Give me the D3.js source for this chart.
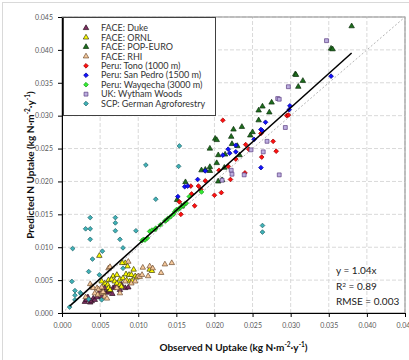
<!DOCTYPE html>
<html>
<head>
<meta charset="utf-8">
<script src="https://cdn.jsdelivr.net/npm/d3@7"></script>
<style>
  body { margin: 0; background: #fff; }
  text { font-family: Lato, "Liberation Sans", sans-serif; }
</style>
</head>
<body>
<div id="chart"></div>
<script>
// observed (x) vs predicted (y) N uptake, kg N m-2 y-1
const duke = [[0.0030,0.0017],[0.0032,0.0020],[0.0037,0.0016],[0.0039,0.0018],[0.0041,0.0022],[0.0043,0.0020],
  [0.0046,0.0024],[0.0048,0.0030],[0.0050,0.0032],[0.0052,0.0025],[0.0054,0.0035],[0.0056,0.0038],[0.0059,0.0031],
  [0.0061,0.0033],[0.0063,0.0035],[0.0067,0.0038],[0.0070,0.0040],[0.0074,0.0041],[0.0078,0.0043],[0.0083,0.0038],
  [0.0087,0.0039],[0.0076,0.0035],[0.0034,0.0024],[0.0066,0.0029]];
const ornl = [[0.0049,0.0087],[0.0067,0.0056],[0.0072,0.0058],[0.0084,0.0059],[0.0088,0.0058],[0.0091,0.0058],
  [0.0096,0.0056],[0.0098,0.0054],[0.0061,0.0050],[0.0065,0.0051],[0.0069,0.0048],[0.0072,0.0045],[0.0056,0.0045],
  [0.0060,0.0043],[0.0076,0.0051],[0.0080,0.0053],[0.0085,0.0050],[0.0089,0.0048],[0.0092,0.0049],[0.0052,0.0048],
  [0.0061,0.0038],[0.0063,0.0035],[0.0054,0.0031],[0.0076,0.0043],[0.0078,0.0040],[0.0094,0.0066],[0.0083,0.0076],
  [0.0115,0.0066],[0.0118,0.0064],[0.0079,0.0076],[0.0086,0.0071]];
const popEuro = [[0.0380,0.0436],[0.0353,0.0402],[0.0355,0.0401],[0.0306,0.0363],[0.0307,0.0362],[0.0316,0.0353],
  [0.0310,0.0344],[0.0275,0.0320],[0.0263,0.0314],[0.0258,0.0308],[0.0272,0.0305],[0.0258,0.0293],[0.0236,0.0283],
  [0.0225,0.0279],[0.0222,0.0268],[0.0250,0.0275],[0.0247,0.0270],[0.0201,0.0265],[0.0203,0.0263],[0.0194,0.0250],
  [0.0223,0.0257],[0.0230,0.0254],[0.0205,0.0240],[0.0214,0.0241],[0.0233,0.0240],[0.0183,0.0217],[0.0188,0.0218],
  [0.0194,0.0222],[0.0203,0.0228],[0.0194,0.0216],[0.0205,0.0200],[0.0210,0.0202],[0.0151,0.0172],[0.0157,0.0162],
  [0.0162,0.0199],[0.0213,0.0221]];
const rhi = [[0.0087,0.0078],[0.0106,0.0069],[0.0115,0.0071],[0.0119,0.0068],[0.0130,0.0061],[0.0135,0.0074],
  [0.0144,0.0076],[0.0113,0.0056],[0.0100,0.0056],[0.0061,0.0068],[0.0063,0.0070],[0.0037,0.0044],[0.0039,0.0040],
  [0.0041,0.0038],[0.0046,0.0038],[0.0048,0.0036],[0.0052,0.0039],[0.0043,0.0030],[0.0047,0.0028],[0.0052,0.0030],
  [0.0054,0.0032],[0.0056,0.0025],[0.0059,0.0022],[0.0083,0.0048],[0.0091,0.0045],[0.0096,0.0048],[0.0102,0.0055],
  [0.0105,0.0058],[0.0072,0.0038],[0.0031,0.0024],[0.0076,0.0030]];
const tono = [[0.0211,0.0293],[0.0295,0.0300],[0.0297,0.0301],[0.0261,0.0273],[0.0277,0.0261],[0.0241,0.0256],
  [0.0245,0.0249],[0.0281,0.0246],[0.0262,0.0237],[0.0228,0.0234],[0.0206,0.0217],[0.0240,0.0213],[0.0221,0.0203],
  [0.0169,0.0193],[0.0179,0.0193],[0.0182,0.0188],[0.0170,0.0181],[0.0174,0.0163],[0.0200,0.0179],[0.0209,0.0183],
  [0.0156,0.0150],[0.0154,0.0169],[0.0188,0.0201],[0.0218,0.0223]];
const sanPedro = [[0.0353,0.0360],[0.0299,0.0315],[0.0298,0.0309],[0.0267,0.0290],[0.0261,0.0279],[0.0263,0.0277],
  [0.0252,0.0264],[0.0228,0.0255],[0.0218,0.0249],[0.0220,0.0243],[0.0228,0.0245],[0.0211,0.0240],[0.0261,0.0221],
  [0.0188,0.0216],[0.0178,0.0203],[0.0161,0.0192],[0.0165,0.0193],[0.0152,0.0177]];
const wayqecha = [[0.0105,0.0110],[0.0107,0.0112],[0.0109,0.0111],[0.0112,0.0114],[0.0115,0.0124],[0.0118,0.0126],
  [0.0122,0.0127],[0.0123,0.0129],[0.0129,0.0134],[0.0135,0.0140],[0.0137,0.0141],[0.0139,0.0144],[0.0142,0.0146],
  [0.0146,0.0150],[0.0148,0.0154],[0.0150,0.0157],[0.0153,0.0158],[0.0155,0.0160],[0.0159,0.0163],[0.0161,0.0166],
  [0.0163,0.0167],[0.0183,0.0184],[0.0167,0.0177]];
const wytham = [[0.0347,0.0414],[0.0297,0.0344],[0.0283,0.0326],[0.0285,0.0325],[0.0293,0.0282],[0.0269,0.0261],
  [0.0264,0.0245],[0.0248,0.0248],[0.0285,0.0210],[0.0222,0.0217],[0.0223,0.0211],[0.0239,0.0210],[0.0210,0.0202]];
const scp = [[0.0154,0.0254],[0.0110,0.0225],[0.0153,0.0223],[0.0123,0.0173],[0.0037,0.0145],[0.0031,0.0128],
  [0.0037,0.0128],[0.0037,0.0112],[0.0070,0.0145],[0.0070,0.0137],[0.0070,0.0125],[0.0076,0.0112],[0.0097,0.0125],
  [0.0080,0.0099],[0.0014,0.0098],[0.0053,0.0094],[0.0013,0.0048],[0.0035,0.0063],[0.0040,0.0082],[0.0049,0.0058],
  [0.0017,0.0034],[0.0017,0.0027],[0.0024,0.0031],[0.0025,0.0029],[0.0017,0.0020],[0.0010,0.0009],[0.0035,0.0021],
  [0.0052,0.0020],[0.0080,0.0068],[0.0263,0.0133],[0.0263,0.0123]];

const seriesNames = ["FACE: Duke", "FACE: ORNL", "FACE: POP-EURO", "FACE: RHI", "Peru: Tono (1000 m)",
  "Peru: San Pedro (1500 m)", "Peru: Wayqecha (3000 m)", "UK: Wytham Woods", "SCP: German Agroforestry"];
const tickValues = [0, 0.005, 0.01, 0.015, 0.02, 0.025, 0.03, 0.035, 0.04, 0.045];
const fitSlope = 1.04;
const fitRange = [0.001, 0.038];
const statsLines = ["y = 1.04x", "R2 = 0.89", "RMSE = 0.003"];

const series = [
  { name: seriesNames[0], data: duke, shape: "tri", fill: "#7e2f62", stroke: "#2b1020" },
  { name: seriesNames[1], data: ornl, shape: "tri", fill: "#ffff00", stroke: "#3a3a10" },
  { name: seriesNames[2], data: popEuro, shape: "tri", fill: "#1d6e1d", stroke: "#0e300e" },
  { name: seriesNames[3], data: rhi, shape: "tri", fill: "#f6c99c", stroke: "#6e4e30" },
  { name: seriesNames[4], data: tono, shape: "dia", fill: "#ff1010", stroke: "#a00000" },
  { name: seriesNames[5], data: sanPedro, shape: "dia", fill: "#1010ff", stroke: "#000090" },
  { name: seriesNames[6], data: wayqecha, shape: "dia", fill: "#33ee33", stroke: "#1c9a1c" },
  { name: seriesNames[7], data: wytham, shape: "sq", fill: "#bcaee0", stroke: "#5a3c80" },
  { name: seriesNames[8], data: scp, shape: "dia", fill: "#3fb2b8", stroke: "#25676b" }
];

const W = 409, H = 360;
const margin = { top: 17, right: 4, bottom: 47, left: 62 };

const svg = d3.select("#chart").append("svg")
  .attr("width", W)
  .attr("height", H);

// outer chart frame
svg.append("rect")
  .attr("x", 2.5).attr("y", 2.5)
  .attr("width", W + 20).attr("height", H + 20)
  .attr("fill", "#fff")
  .attr("stroke", "#d9d9d9");

const x = d3.scaleLinear().domain([0, 0.045]).range([margin.left, W - margin.right]);
const y = d3.scaleLinear().domain([0, 0.045]).range([H - margin.bottom, margin.top]);

// grid
svg.append("g")
  .selectAll("line")
  .data(tickValues.slice(1))
  .join("line")
  .attr("x1", d => x(d)).attr("x2", d => x(d))
  .attr("y1", y(0)).attr("y2", y(0.045))
  .attr("stroke", "#d9d9d9").attr("stroke-dasharray", "4,2");
svg.append("g")
  .selectAll("line")
  .data(tickValues.slice(1))
  .join("line")
  .attr("x1", x(0)).attr("x2", x(0.045))
  .attr("y1", d => y(d)).attr("y2", d => y(d))
  .attr("stroke", "#d9d9d9").attr("stroke-dasharray", "4,2");

// plot border
svg.append("rect")
  .attr("x", x(0)).attr("y", y(0.045))
  .attr("width", x(0.045) - x(0)).attr("height", y(0) - y(0.045))
  .attr("fill", "none").attr("stroke", "#8c8c8c");

// 1:1 line
svg.append("line")
  .attr("x1", x(0)).attr("y1", y(0))
  .attr("x2", x(0.045)).attr("y2", y(0.045))
  .attr("stroke", "#b5b5b5").attr("stroke-width", 1)
  .attr("stroke-dasharray", "2,2");

// axes
const fmt = d3.format(".3f");
const xAxis = svg.append("g")
  .attr("transform", "translate(0," + y(0) + ")")
  .call(d3.axisBottom(x).tickValues(tickValues).tickFormat(fmt).tickSize(4).tickSizeOuter(0).tickPadding(6));
const yAxis = svg.append("g")
  .attr("transform", "translate(" + x(0) + ",0)")
  .call(d3.axisLeft(y).tickValues(tickValues).tickFormat(fmt).tickSize(4).tickSizeOuter(0).tickPadding(5));
[xAxis, yAxis].forEach(a => {
  a.select(".domain").attr("stroke", "#000");
  a.selectAll(".tick line").attr("stroke", "#000");
  a.selectAll(".tick text")
    .attr("fill", "#595959")
    .style("font-family", "Lato, 'Liberation Sans', sans-serif")
    .style("font-size", "7px");
});

// marker shapes (excel style: triangle, diamond = rotated square, square)
const shapes = {
  tri: d3.symbol().type(d3.symbolTriangle).size(13)(),
  dia: d3.symbol().type(d3.symbolSquare).size(11)(),
  sq: d3.symbol().type(d3.symbolSquare).size(15)()
};
const rot = s => s === "dia" ? " rotate(45)" : "";

series.forEach(s => {
  svg.append("g")
    .selectAll("path")
    .data(s.data)
    .join("path")
    .attr("transform", d => "translate(" + x(d[0]) + "," + y(d[1]) + ")" + rot(s.shape))
    .attr("d", shapes[s.shape])
    .attr("fill", s.fill)
    .attr("stroke", s.stroke)
    .attr("stroke-width", 0.7);
});

// fitted line
svg.append("line")
  .attr("x1", x(fitRange[0])).attr("y1", y(fitRange[0] * fitSlope))
  .attr("x2", x(fitRange[1])).attr("y2", y(fitRange[1] * fitSlope))
  .attr("stroke", "#000").attr("stroke-width", 1.5);

// legend
const legend = svg.append("g");
legend.append("rect")
  .attr("x", 63.5).attr("y", 17.5)
  .attr("width", 152).attr("height", 98)
  .attr("fill", "#fff").attr("stroke", "#404040");
series.forEach((s, i) => {
  const ly = 28 + i * 9.45;
  legend.append("path")
    .attr("transform", "translate(86," + ly + ")" + rot(s.shape))
    .attr("d", shapes[s.shape])
    .attr("fill", s.fill).attr("stroke", s.stroke).attr("stroke-width", 0.7);
  legend.append("text")
    .attr("x", 101).attr("y", ly + 3.2)
    .attr("fill", "#333")
    .style("font-size", "9px")
    .text(s.name);
});

// stats text
const stats = svg.append("g").style("font-size", "10px").attr("fill", "#222");
stats.append("text").attr("x", 336).attr("y", 274).text(statsLines[0]);
const r2 = stats.append("text").attr("x", 336).attr("y", 290);
r2.append("tspan").text("R");
r2.append("tspan").attr("dy", -3.5).style("font-size", "6.5px").text("2");
r2.append("tspan").attr("dy", 3.5).text(" = 0.89");
stats.append("text").attr("x", 336).attr("y", 305).text(statsLines[2]);

// axis titles
function unitTitle(sel, label) {
  sel.append("tspan").text(label + " (kg N\u00b7m");
  sel.append("tspan").attr("dy", -4).style("font-size", "6.5px").text("-2");
  sel.append("tspan").attr("dy", 4).text("\u00b7y");
  sel.append("tspan").attr("dy", -4).style("font-size", "6.5px").text("-1");
  sel.append("tspan").attr("dy", 4).text(")");
}
const xt = svg.append("text")
  .attr("x", (x(0) + x(0.045)) / 2).attr("y", 351)
  .attr("text-anchor", "middle")
  .style("font-size", "10px").style("font-weight", "bold").attr("fill", "#111");
unitTitle(xt, "Observed N Uptake");
const yt = svg.append("text")
  .attr("transform", "translate(34," + (y(0) + y(0.045)) / 2 + ") rotate(-90)")
  .attr("text-anchor", "middle")
  .style("font-size", "10px").style("font-weight", "bold").attr("fill", "#111");
unitTitle(yt, "Predicted N Uptake");
</script>
</body>
</html>
